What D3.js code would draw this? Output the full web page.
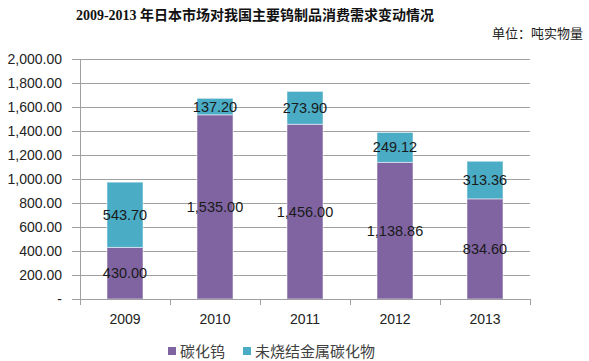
<!DOCTYPE html>
<html><head><meta charset="utf-8">
<script src="https://cdn.jsdelivr.net/npm/d3@7/dist/d3.min.js"></script>
<style>body{margin:0;background:#fff}</style>
</head><body>
<svg id="c" width="589" height="361"></svg>
<script>
const years = ["2009","2010","2011","2012","2013"];
const wc = [430.00, 1535.00, 1456.00, 1138.86, 834.60];
const unsintered = [543.70, 137.20, 273.90, 249.12, 313.36];
const seriesNames = ["碳化钨","未烧结金属碳化物"];
const yTicks = [0,200,400,600,800,1000,1200,1400,1600,1800,2000];
const colors = ["#8064A2","#4BACC6"];

(function(){
const svg = d3.select("#c");
const pL=80, pR=530, pT=59, pB=299;
const x = d3.scaleBand().domain(years).range([pL,pR]).paddingInner(0.6).paddingOuter(0.3);
const xAxisScale = d3.scaleBand().domain(years).range([pL,pR]);
const y = d3.scaleLinear().domain([0,2000]).range([pB,pT]);
const fmt = d3.format(",.2f");

// gridlines
svg.append("g").selectAll("line").data(yTicks.slice(1)).join("line")
  .attr("x1",pL).attr("x2",pR).attr("y1",d=>y(d)).attr("y2",d=>y(d))
  .attr("stroke","#a0a0a0").attr("stroke-width",1).attr("shape-rendering","crispEdges");

// y axis
const ya = svg.append("g").attr("transform",`translate(${pL},0)`)
  .call(d3.axisLeft(y).tickValues(yTicks).tickSize(8).tickPadding(10).tickFormat(d=>d===0?"-":fmt(d)));
ya.select(".domain").attr("stroke","#a0a0a0").attr("d",`M0,${pB}V${pT}`);
ya.selectAll(".tick line").attr("stroke","#a0a0a0");
ya.selectAll("text").attr("font-family","Liberation Sans, Arial, sans-serif").attr("font-size",14).attr("fill","#222");
ya.attr("shape-rendering","crispEdges");

// stacked data
const data = years.map((yr,i)=>({year:yr, a:wc[i], b:unsintered[i]}));
const stack = d3.stack().keys(["a","b"])(data);

const g = svg.append("g");
stack.forEach((s,si)=>{
  g.append("g").selectAll("rect").data(s).join("rect")
    .attr("x",d=>x(d.data.year)).attr("width",x.bandwidth())
    .attr("y",d=>y(d[1])).attr("height",d=>y(d[0])-y(d[1]))
    .attr("fill",colors[si]).attr("stroke","#fff").attr("stroke-opacity",0.5).attr("stroke-width",1);
});

// x axis
const xa = svg.append("g").attr("transform",`translate(0,${pB})`)
  .call(d3.axisBottom(xAxisScale).tickSize(0).tickPadding(15));
xa.select(".domain").attr("stroke","#a0a0a0").attr("d",`M${pL},0H${pR}`);
xa.selectAll("text").attr("font-family","Liberation Sans, Arial, sans-serif").attr("font-size",14).attr("fill","#222");
xa.append("g").selectAll("line").data(d3.range(years.length+1)).join("line")
  .attr("x1",i=>pL+i*xAxisScale.step()).attr("x2",i=>pL+i*xAxisScale.step())
  .attr("y1",0).attr("y2",6).attr("stroke","#a0a0a0");
xa.attr("shape-rendering","crispEdges");

// data labels
stack.forEach((s,si)=>{
  g.append("g").selectAll("text").data(s).join("text")
    .attr("x",d=>x(d.data.year)+x.bandwidth()/2)
    .attr("y",d=>y((d[0]+d[1])/2))
    .attr("dy","0.35em").attr("text-anchor","middle")
    .attr("font-family","Liberation Sans, Arial, sans-serif").attr("font-size",14.5).attr("fill","#1a1a1a")
    .text(d=>fmt(d[1]-d[0]));
});

// title
svg.append("text").attr("x",255).attr("y",20).attr("text-anchor","middle")
  .attr("font-family","Liberation Serif, 'Noto Sans CJK SC', serif").attr("font-weight","bold").attr("font-size",14)
  .attr("fill","#111").text("2009-2013 年日本市场对我国主要钨制品消费需求变动情况");
svg.append("text").attr("x",583).attr("y",38).attr("text-anchor","end")
  .attr("font-family","'Noto Sans CJK SC', sans-serif").attr("font-size",13)
  .attr("fill","#222").text("单位：吨实物量");

// legend
const lg = svg.append("g");
const lx = [168, 243];
seriesNames.forEach((n,i)=>{
  lg.append("rect").attr("x",lx[i]).attr("y",347).attr("width",8).attr("height",8).attr("fill",colors[i]);
  lg.append("text").attr("x",lx[i]+12).attr("y",352).attr("dy","0.35em")
    .attr("font-family","'Noto Sans CJK SC', sans-serif").attr("font-size",15).attr("fill","#404040").text(n);
});
})();
</script>
</body></html>
